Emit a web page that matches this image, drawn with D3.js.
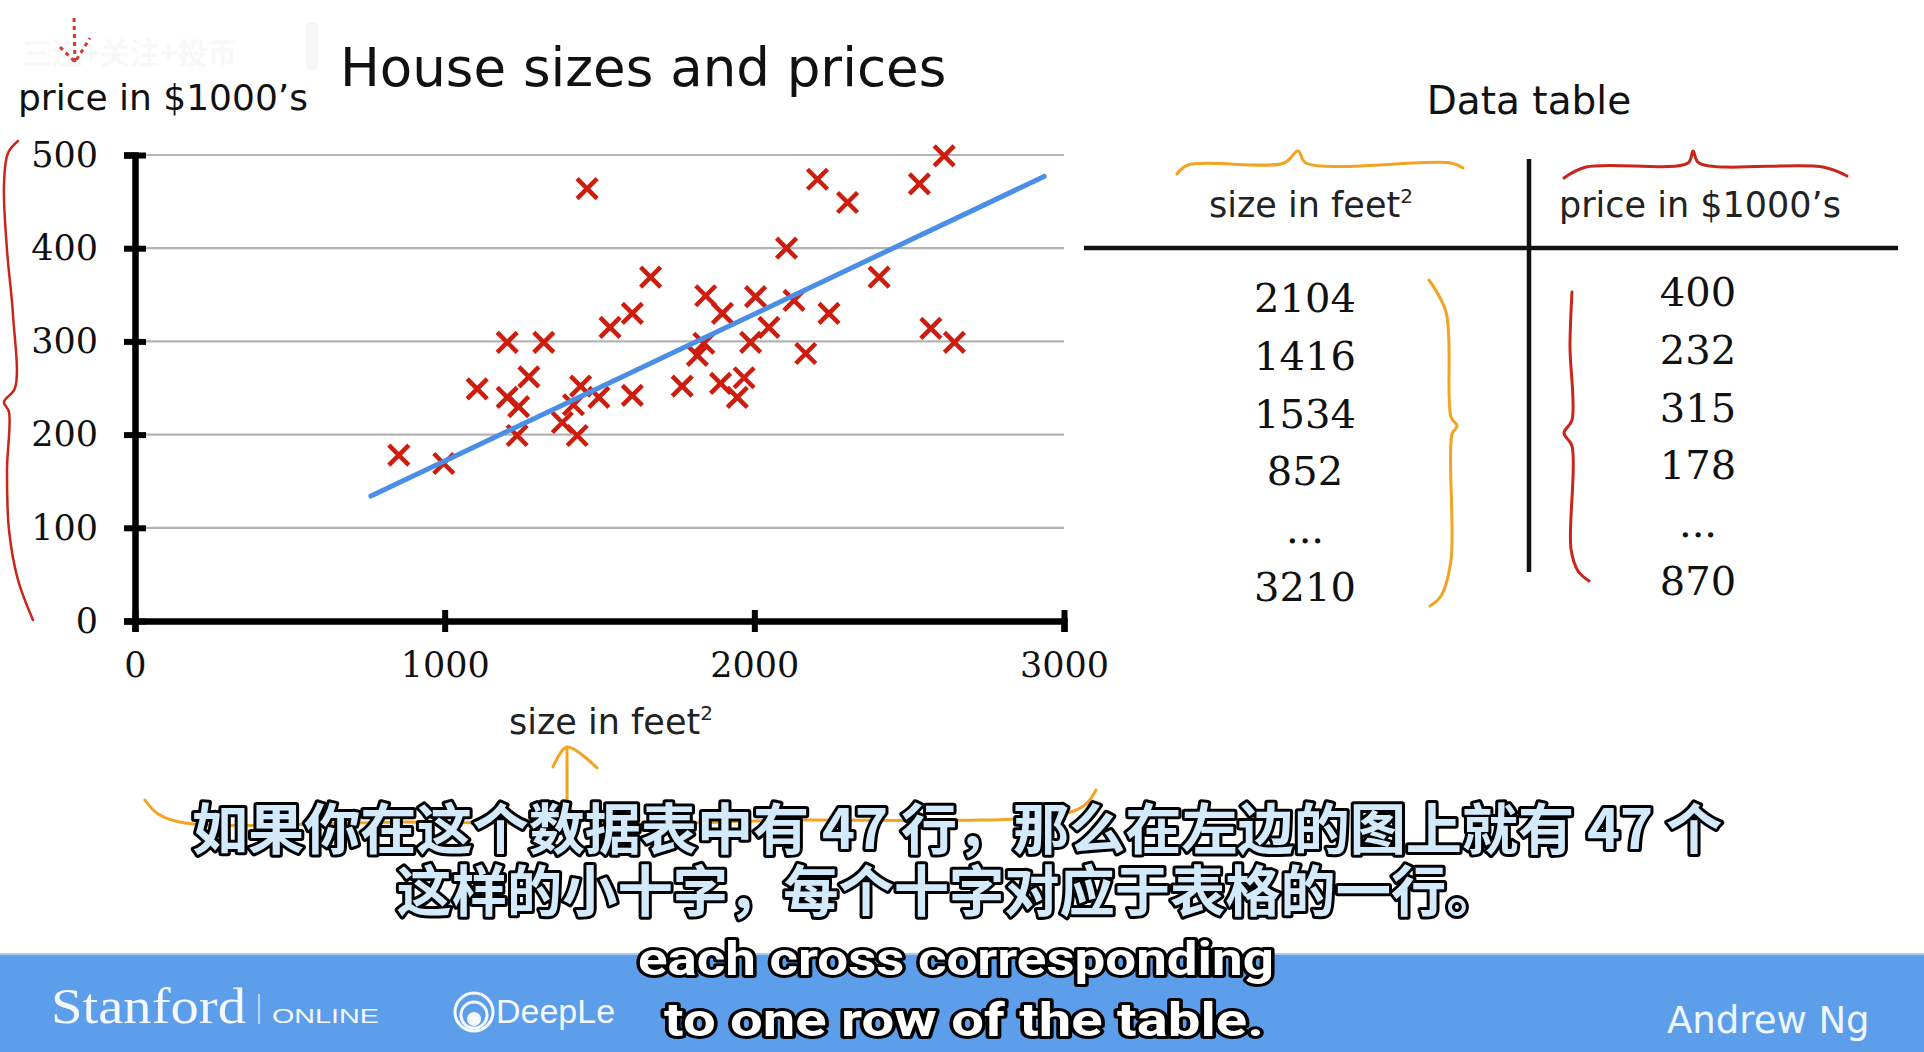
<!DOCTYPE html>
<meta charset="utf-8">
<title>House sizes and prices</title>
<script src="https://cdn.jsdelivr.net/npm/d3@7/dist/d3.min.js"></script>
<style>
  html, body { margin: 0; padding: 0; background: #fff; }
  svg { display: block; }
  .sans { font-family: "DejaVu Sans", Verdana, sans-serif; }
  .serif { font-family: "DejaVu Serif", Cambria, serif; }
</style>
<body>
<div id="chart"></div>
<script>
  // scatter data (size in feet^2, price in $1000's)
  var sizes = [1460, 1665, 1202, 1320, 1105, 1272, 1202, 1239, 1234, 852,
    997, 1534, 1606, 1439, 1416, 1380, 1428, 1498, 1606, 1767,
    2613, 2533, 2204, 2301, 2104, 2403, 1843, 1897, 2004, 2128,
    2241, 2047, 1988, 1837, 1816, 2166, 2570, 2646, 1891, 1967, 1945];
  var prices = [464, 369, 299, 299, 249, 262, 240, 230, 199, 178,
    169, 315, 330, 252, 232, 213, 199, 240, 242, 252,
    499, 469, 474, 449, 400, 369, 349, 330, 348, 344,
    330, 315, 299, 298, 285, 287, 314, 299, 255, 261, 240];

  // fitted line, two end points
  var fitSizes = [762, 2936];
  var fitPrices = [134, 477];

  var xTicks = [0, 1000, 2000, 3000];
  var yTicks = [0, 100, 200, 300, 400, 500];

  // data table on the right
  var tableSizes = ["2104", "1416", "1534", "852", "...", "3210"];
  var tablePrices = ["400", "232", "315", "178", "...", "870"];

  var W = 1924, H = 1052;
  var svg = d3.select("#chart").append("svg")
    .attr("width", W)
    .attr("height", H);

  svg.append("rect").attr("width", W).attr("height", H).attr("fill", "#ffffff");

  var x = d3.scaleLinear().domain([0, 3000]).range([135, 1064]);
  var y = d3.scaleLinear().domain([0, 500]).range([621, 155]);

  // faint watermark ghosts top-left
  svg.append("text").attr("x", 22).attr("y", 64)
    .style("font-family", "Noto Sans CJK SC").style("font-size", "30px").style("font-weight", 700)
    .attr("fill", "#f8f8f8").text("三连+关注+投币");
  svg.append("rect").attr("x", 306).attr("y", 22).attr("width", 12).attr("height", 48)
    .attr("rx", 4).attr("fill", "#f6f6f6");

  // title and y label
  svg.append("text").attr("class", "sans")
    .attr("x", 340).attr("y", 86)
    .style("font-size", "53px").attr("fill", "#111")
    .text("House sizes and prices");

  svg.append("text").attr("class", "sans")
    .attr("x", 18).attr("y", 110)
    .style("font-size", "36px").attr("fill", "#111")
    .text("price in $1000\u2019s");

  // gridlines
  svg.append("g").selectAll("line")
    .data(yTicks.filter(function (d) { return d > 0; }))
    .enter().append("line")
    .attr("x1", x(0)).attr("x2", x(3000))
    .attr("y1", function (d) { return y(d); })
    .attr("y2", function (d) { return y(d); })
    .attr("stroke", "#b4b4b4")
    .attr("stroke-width", 2.2);

  // y axis
  var gY = svg.append("g")
    .attr("transform", "translate(" + x(0) + ",0)")
    .call(d3.axisLeft(y).tickValues(yTicks).tickFormat(d3.format("d"))
      .tickSizeOuter(0).tickSize(11).tickPadding(26));
  gY.select(".domain").attr("stroke", "#000").attr("stroke-width", 6.5);
  gY.selectAll(".tick line").attr("x1", -11).attr("x2", 11).attr("stroke", "#000").attr("stroke-width", 6);

  // x axis
  var gX = svg.append("g")
    .attr("transform", "translate(0," + y(0) + ")")
    .call(d3.axisBottom(x).tickValues(xTicks).tickFormat(d3.format("d"))
      .tickSizeOuter(0).tickSize(11).tickPadding(20));
  gX.select(".domain").attr("stroke", "#000").attr("stroke-width", 6.5);
  gX.selectAll(".tick line").attr("y1", -11).attr("y2", 11).attr("stroke", "#000").attr("stroke-width", 6);

  svg.selectAll(".tick text")
    .style("font-family", "DejaVu Serif, serif")
    .style("font-size", "35px").attr("fill", "#111");

  // red crosses
  var points = sizes.map(function (s, i) { return { size: s, price: prices[i] }; });
  var arm = 10;
  svg.append("g").selectAll("path")
    .data(points)
    .enter().append("path")
    .attr("transform", function (d) { return "translate(" + x(d.size) + "," + y(d.price) + ")"; })
    .attr("d", "M" + (-arm) + "," + (-arm) + "L" + arm + "," + arm + "M" + (-arm) + "," + arm + "L" + arm + "," + (-arm))
    .attr("stroke", "#cc1d0e")
    .attr("stroke-width", 4.5)
    .attr("fill", "none");

  // fitted line
  svg.append("path")
    .datum(fitSizes.map(function (s, i) { return [s, fitPrices[i]]; }))
    .attr("d", d3.line().x(function (d) { return x(d[0]); }).y(function (d) { return y(d[1]); }))
    .attr("stroke", "#4a8ee6")
    .attr("stroke-width", 5)
    .attr("stroke-linecap", "round")
    .attr("fill", "none");

  // x axis title
  var xt = svg.append("text").attr("class", "sans")
    .attr("x", 509).attr("y", 734)
    .style("font-size", "35px").attr("fill", "#222");
  xt.append("tspan").text("size in feet");
  xt.append("tspan").attr("dy", -14).style("font-size", "20px").text("2");

  // data table
  svg.append("text").attr("class", "sans")
    .attr("x", 1529).attr("y", 114).attr("text-anchor", "middle")
    .style("font-size", "39px").attr("fill", "#111")
    .text("Data table");

  var h1 = svg.append("text").attr("class", "sans")
    .attr("x", 1209).attr("y", 217)
    .style("font-size", "35px").attr("fill", "#222");
  h1.append("tspan").text("size in feet");
  h1.append("tspan").attr("dy", -14).style("font-size", "20px").text("2");

  svg.append("text").attr("class", "sans")
    .attr("x", 1700).attr("y", 217).attr("text-anchor", "middle")
    .style("font-size", "35px").attr("fill", "#222")
    .text("price in $1000\u2019s");

  svg.append("line").attr("x1", 1084).attr("x2", 1898).attr("y1", 248).attr("y2", 248)
    .attr("stroke", "#111").attr("stroke-width", 4.5);
  svg.append("line").attr("x1", 1529).attr("x2", 1529).attr("y1", 159).attr("y2", 572)
    .attr("stroke", "#111").attr("stroke-width", 4.5);

  var rowY = d3.scaleLinear().domain([0, 5]).range([312, 601]);
  svg.append("g").selectAll("text")
    .data(tableSizes)
    .enter().append("text")
    .attr("x", 1305)
    .attr("y", function (d, i) { return rowY(i); })
    .attr("text-anchor", "middle")
    .style("font-family", "DejaVu Serif, serif")
    .style("font-size", "40px").attr("fill", "#111")
    .text(function (d) { return d; });

  svg.append("g").selectAll("text")
    .data(tablePrices)
    .enter().append("text")
    .attr("x", 1698)
    .attr("y", function (d, i) { return rowY(i) - 6; })
    .attr("text-anchor", "middle")
    .style("font-family", "DejaVu Serif, serif")
    .style("font-size", "40px").attr("fill", "#111")
    .text(function (d) { return d; });

  // hand drawn annotations
  var curve = d3.line().curve(d3.curveCatmullRom.alpha(0.5));
  function ink(pts, color, w) {
    svg.append("path").attr("d", curve(pts))
      .attr("fill", "none").attr("stroke", color)
      .attr("stroke-width", w || 2.5)
      .attr("stroke-linecap", "round").attr("stroke-linejoin", "round");
  }
  var red = "#c8251b", orange = "#f2a322";
  ink([[18, 141], [8, 153], [4, 185], [7, 250], [13, 315], [15, 388], [4, 402], [9, 412], [7, 470], [9, 530], [18, 580], [33, 620]], red);
  ink([[145, 800], [158, 814], [185, 823], [400, 822], [555, 818], [567, 806], [578, 818], [800, 820], [1060, 815], [1085, 805], [1096, 790]], orange, 3);
  ink([[567, 800], [567, 747]], orange, 3);
  ink([[553, 767], [567, 747], [597, 768]], orange, 3);
  ink([[1177, 174], [1188, 165], [1284, 163], [1298, 151], [1306, 163], [1451, 163], [1463, 168]], orange, 3);
  ink([[1564, 178], [1586, 167], [1688, 163], [1693, 151], [1699, 163], [1823, 167], [1847, 176]], red, 3);
  ink([[1429, 280], [1446, 312], [1451, 417], [1457, 426], [1452, 434], [1451, 560], [1441, 596], [1430, 606]], orange, 3);
  ink([[1572, 292], [1570, 346], [1572, 420], [1564, 433], [1572, 446], [1571, 549], [1578, 571], [1589, 581]], red, 3);
  svg.append("path").attr("d", "M74,18L75,62M60,47L75,62L90,38")
    .attr("fill", "none").attr("stroke", "#d23a2e").attr("stroke-width", 3)
    .attr("stroke-dasharray", "4,4");

  // footer band
  svg.append("rect").attr("x", 0).attr("y", 953).attr("width", W).attr("height", H - 953)
    .attr("fill", "#5d9eea");
  svg.append("line").attr("x1", 0).attr("x2", W).attr("y1", 954).attr("y2", 954)
    .attr("stroke", "#a9cbf3").attr("stroke-width", 2);
  svg.append("text").attr("x", 51).attr("y", 1023)
    .style("font-family", "Liberation Serif, serif").style("font-size", "50px")
    .attr("textLength", 195).attr("lengthAdjust", "spacingAndGlyphs")
    .attr("fill", "#f4f8fd").text("Stanford");
  svg.append("line").attr("x1", 259).attr("x2", 259).attr("y1", 994).attr("y2", 1024)
    .attr("stroke", "#dbe9fb").attr("stroke-width", 1.5);
  svg.append("text").attr("x", 272).attr("y", 1023)
    .style("font-family", "Liberation Sans, sans-serif").style("font-size", "21px")
    .attr("textLength", 107).attr("lengthAdjust", "spacingAndGlyphs")
    .attr("fill", "#f4f8fd").text("ONLINE");
  var logo = svg.append("g").attr("transform", "translate(474,1012)");
  logo.append("circle").attr("r", 19).attr("fill", "none").attr("stroke", "#f4f8fd").attr("stroke-width", 3);
  logo.append("circle").attr("cy", 3).attr("r", 13).attr("fill", "none").attr("stroke", "#f4f8fd").attr("stroke-width", 3);
  logo.append("circle").attr("cy", 7).attr("r", 7).attr("fill", "#f4f8fd");
  // the subtitle covers the rest of this name, so only the visible part is kept
  svg.append("text").attr("x", 496).attr("y", 1023)
    .style("font-family", "Liberation Sans, sans-serif").style("font-size", "34px")
    .attr("fill", "#f4f8fd").text("DeepLe");
  svg.append("text").attr("x", 1667).attr("y", 1033)
    .style("font-family", "DejaVu Sans, sans-serif").style("font-size", "37px")
    .attr("fill", "#eef6ff").text("Andrew Ng");

  // subtitles
  function subtitle(str, cx, by, size, len, fill, family) {
    svg.append("text")
      .attr("x", cx).attr("y", by).attr("text-anchor", "middle")
      .attr("textLength", len).attr("lengthAdjust", "spacingAndGlyphs")
      .style("font-family", family).style("font-size", size + "px").style("font-weight", 700)
      .attr("fill", fill).attr("stroke", "#000").attr("stroke-width", 6)
      .attr("stroke-linejoin", "round").style("paint-order", "stroke")
      .text(str);
  }
  subtitle("如果你在这个数据表中有 47 行，那么在左边的图上就有 47 个", 957, 849, 55, 1530, "#d2eafb", "Noto Sans CJK SC");
  subtitle("这样的小十字，每个十字对应于表格的一行。", 949, 911, 55, 1105, "#d2eafb", "Noto Sans CJK SC");
  subtitle("each cross corresponding", 956, 975, 46, 636, "#ffffff", "Roboto, sans-serif");
  subtitle("to one row of the table.", 964, 1036, 46, 600, "#ffffff", "Roboto, sans-serif");
</script>
</body>
